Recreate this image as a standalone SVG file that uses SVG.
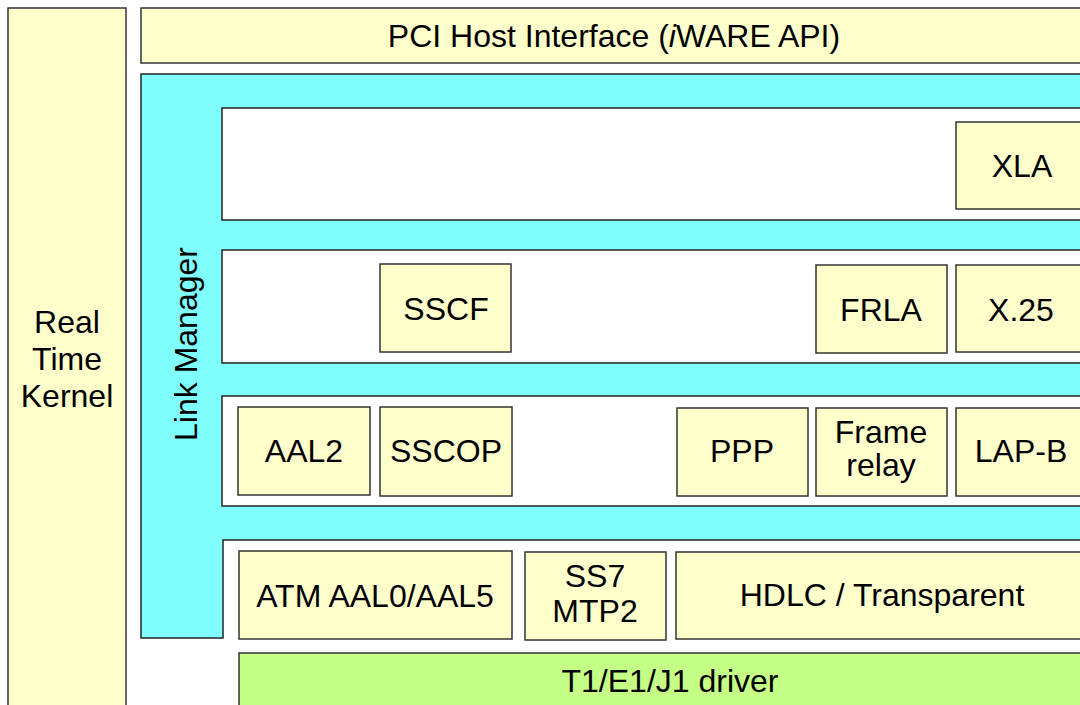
<svg xmlns="http://www.w3.org/2000/svg" width="1080" height="705" viewBox="0 0 1080 705">
  <style>
    .blk { fill: #FFFFCC; stroke: #333; stroke-width: 1.5; }
    .lyr { fill: #FFFFFF; stroke: #222; stroke-width: 1.5; }
    .lm { fill: #80FFFF; stroke: #222; stroke-width: 1.5; }
    .drv { fill: #C4FF86; stroke: #333; stroke-width: 1.5; }
    text { font-family: "Liberation Sans", Arial, sans-serif; font-size: 32px; fill: #000; text-anchor: middle; }
  </style>
  <rect width="1080" height="705" fill="#FFFFFF"/>

  <g id="kernel">
    <rect class="blk" x="8" y="8" width="118" height="720"/>
    <text x="67" y="333">Real</text>
    <text x="67" y="370">Time</text>
    <text x="67" y="407">Kernel</text>
  </g>

  <g id="pci-host">
    <rect class="blk" x="141" y="8" width="960" height="55"/>
    <text x="614" y="47">PCI Host Interface (<tspan font-style="italic">i</tspan>WARE API)</text>
  </g>

  <g id="link-manager">
    <path class="lm" d="M141,74 H1100 V540 H223 V638 H141 Z"/>
    <text x="197" y="344" transform="rotate(-90 197 344)">Link Manager</text>
  </g>

  <g id="layer-1">
    <rect class="lyr" x="222" y="108" width="880" height="112"/>
  </g>
  <g id="layer-2">
    <rect class="lyr" x="222" y="250" width="880" height="113"/>
  </g>
  <g id="layer-3">
    <rect class="lyr" x="222" y="396" width="880" height="110"/>
  </g>

  <g id="xla">
    <rect class="blk" x="956" y="122" width="140" height="87"/>
    <text x="1022" y="177">XLA</text>
  </g>

  <g id="sscf">
    <rect class="blk" x="380" y="264" width="131" height="88"/>
    <text x="446" y="320">SSCF</text>
  </g>
  <g id="frla">
    <rect class="blk" x="816" y="265" width="131" height="88"/>
    <text x="881" y="321">FRLA</text>
  </g>
  <g id="x25">
    <rect class="blk" x="956" y="265" width="140" height="87"/>
    <text x="1021" y="321">X.25</text>
  </g>

  <g id="aal2">
    <rect class="blk" x="238" y="407" width="132" height="88"/>
    <text x="304" y="462">AAL2</text>
  </g>
  <g id="sscop">
    <rect class="blk" x="380" y="407" width="132" height="89"/>
    <text x="446" y="462">SSCOP</text>
  </g>
  <g id="ppp">
    <rect class="blk" x="677" y="408" width="131" height="88"/>
    <text x="742" y="462">PPP</text>
  </g>
  <g id="frame-relay">
    <rect class="blk" x="816" y="408" width="131" height="88"/>
    <text x="881" y="443">Frame</text>
    <text x="881" y="476">relay</text>
  </g>
  <g id="lapb">
    <rect class="blk" x="956" y="408" width="140" height="88"/>
    <text x="1021" y="462">LAP-B</text>
  </g>

  <g id="atm">
    <rect class="blk" x="239" y="551" width="273" height="88"/>
    <text x="375" y="607">ATM AAL0/AAL5</text>
  </g>
  <g id="ss7">
    <rect class="blk" x="525" y="552" width="141" height="88"/>
    <text x="595" y="587">SS7</text>
    <text x="595" y="622">MTP2</text>
  </g>
  <g id="hdlc">
    <rect class="blk" x="676" y="552" width="430" height="87"/>
    <text x="882" y="606">HDLC / Transparent</text>
  </g>

  <g id="driver">
    <rect class="drv" x="239" y="653" width="870" height="80"/>
    <text x="670" y="692">T1/E1/J1 driver</text>
  </g>

  <g id="connectors"></g>
</svg>
